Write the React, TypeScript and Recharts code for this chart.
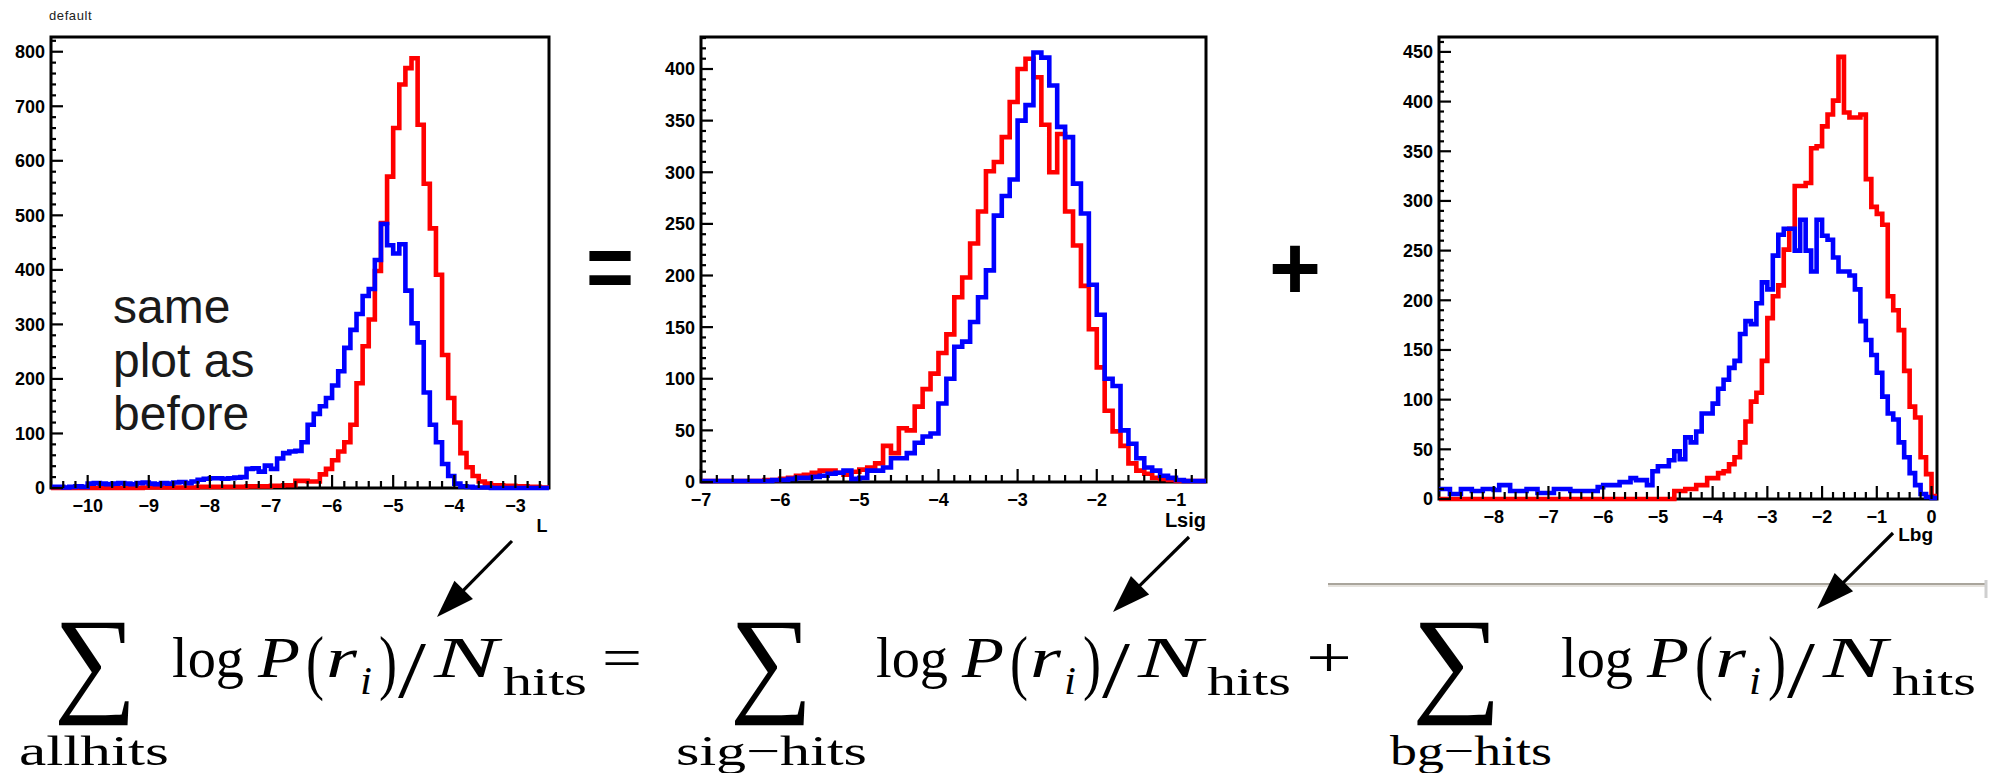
import React from 'react';
import { LineChart, Line, XAxis, YAxis, ReferenceArea } from 'recharts';

// ---------- data ----------
const BIN = 0.1;

// Plot 1: L (all hits)
const L_START = -10.6;
const L_END = -2.45;
const L_RED = [
  0, 0, 0, 0, 0, 0, 0, 0, 0, 0, 0, 0, 0, 0, 0, 1, 1, 1, 1, 1, 1,
  1, 1, 1, 2, 2, 2, 2, 2, 2, 2, 2, 3, 3, 3, 3,
  4, 4, 5, 5,
  13, 13, 12, 12,
  25, 35, 51, 67, 84, 116, 192, 260, 309, 398, 486, 571, 660, 740, 770, 788,
  666, 558, 476, 391, 244, 165, 120, 64, 38, 22, 12, 8, 5, 5, 4, 4, 3, 3, 2, 2, 1, 1,
];
const L_BLUE = [
  2, 2, 1, 2, 3, 2,
  8, 9, 8, 7, 8, 9, 8, 7, 9, 10, 8, 7, 9, 8, 10, 11, 9,
  12, 15, 17, 18, 18, 17, 18, 19, 20,
  35, 36, 30, 41, 35, 54, 64, 67, 68, 84,
  116, 136, 150, 165, 188, 214, 257, 290, 319, 352,
  365, 418, 484, 445, 430, 447, 362, 302, 267, 175,
  116, 84, 44, 22, 8, 3, 2, 1, 1, 1,
  0, 0, 0, 0, 0, 0, 0, 0, 0, 0,
];

// Plot 2: Lsig
const S_START = -7;
const S_END = -0.62;
const S_RED = [
  1, 1, 1, 1, 1, 1, 1, 1,
  2, 2, 3, 4, 6, 7, 9, 11, 11, 9, 7, 10, 12, 14, 18,
  35, 28, 52, 50, 73, 90, 105, 125, 143, 179, 198, 231, 262, 301, 310, 334, 368,
  400, 410, 392, 346, 300, 337, 262, 229, 190, 148, 111, 69, 49,
  35, 18, 11, 8, 4, 3, 2, 1, 1, 1, 1,
];
const S_BLUE = [
  1, 1, 1, 1, 1, 1, 1, 1, 1,
  2, 2, 3, 4, 4, 5, 6, 8, 9, 11, 3, 4, 11, 11, 14, 23, 23, 28, 38, 44, 47,
  76, 100, 131, 136, 155, 179, 205, 258, 277, 293, 350, 365, 416, 411, 384, 344, 334, 289, 260, 191,
  162, 100, 93, 50, 37, 23, 14, 11, 6, 4, 2, 1, 1, 1,
];

// Plot 3: Lbg
const B_START = -9;
const B_END = 0.1;
const B_RED = [
  0, 0, 0, 0, 0, 0, 0, 0, 0, 0, 0, 0, 0, 0, 0, 0, 0, 0, 0, 0, 0, 0,
  0, 0, 0, 0, 0, 0, 0, 0, 0, 0, 0, 0, 0, 0, 0, 0, 0, 0, 0, 0, 0,
  8, 8, 10, 10, 14, 14, 21, 21, 26, 28,
  35, 42, 57, 78, 98, 107, 139, 182, 204, 215,
  251, 272, 315, 315, 318, 353, 355, 375, 387, 401,
  445, 389, 384, 384, 387, 322, 294, 287, 276, 204,
  190, 170, 129, 93, 82, 42, 25, 3,
];
const B_BLUE = [
  10, 10, 5, 5, 10, 10, 8, 8, 10, 10,
  9, 14, 14, 8, 8, 8, 10, 10, 6, 6,
  6, 10, 10, 10, 8, 8, 8, 8, 8, 12,
  14, 14, 14, 17, 17, 21, 19, 19, 14, 28,
  33, 33, 39, 48, 40, 62, 57, 68, 86, 86,
  96, 111, 120, 132, 139, 166, 179, 176, 197, 218,
  211, 245, 266, 272, 272, 250, 281, 250, 229, 281,
  265, 261, 243, 229, 229, 225, 211, 179, 160, 145,
  127, 103, 86, 80, 57, 42, 26, 14, 5, 2, 1,
];

const L_YMAX = 827;
const S_YMAX = 431;
const B_YMAX = 465;

// ---------- helpers ----------
type Row = { x: number; red: number; blue: number };

function buildRows(start: number, end: number, red: number[], blue: number[]): Row[] {
  const rows: Row[] = red.map((r, i) => ({ x: +(start + i * BIN).toFixed(3), red: r, blue: blue[i] }));
  rows.push({ x: end, red: red[red.length - 1], blue: blue[blue.length - 1] });
  return rows;
}

function range(a: number, b: number, step: number): number[] {
  const n = Math.round((b - a) / step);
  const out: number[] = [];
  for (let i = 0; i <= n; i++) out.push(+(a + i * step).toFixed(4));
  return out;
}

const SANS = '"Liberation Sans", Arial, Helvetica, sans-serif';
const SERIF = '"Liberation Serif", "Times New Roman", serif';

function fmt(v: number): string {
  return v < 0 ? '\u2212' + Math.abs(v) : String(v);
}

const YW = 70;
const MT = 12;
const MR = 12;
const XH = 50;

type HistProps = {
  frame: [number, number, number, number];
  start: number;
  end: number;
  ymax: number;
  red: number[];
  blue: number[];
  xTicks: number[];
  yTicks: number[];
  yMajor: number;
  fs: number;
};

function Hist({ frame, start, end, ymax, red, blue, xTicks, yTicks, yMajor, fs }: HistProps) {
  const [fx0, fy0, fx1, fy1] = frame;
  const pw = fx1 - fx0;
  const ph = fy1 - fy0;
  const W = pw + YW + MR;
  const H = ph + MT + XH;
  const axisY = MT + ph;
  const axisX = YW;
  const data = buildRows(start, end, red, blue);

  const xTick = (props: any) => {
    const { x, payload } = props;
    const v = payload.value as number;
    const major = Math.abs(v - Math.round(v)) < 1e-6;
    return (
      <g>
        <line x1={x} x2={x} y1={axisY} y2={axisY - (major ? 13 : 7)} stroke="#000" strokeWidth={2.2} />
        {major && (
          <text
            x={x}
            y={axisY + 24}
            textAnchor="middle"
            fontFamily={SANS}
            fontWeight={700}
            fontSize={fs}
            fill="#000"
          >
            {fmt(Math.round(v))}
          </text>
        )}
      </g>
    );
  };

  const yTick = (props: any) => {
    const { y, payload } = props;
    const v = payload.value as number;
    const major = Math.abs(v % yMajor) < 1e-6;
    return (
      <g>
        <line x1={axisX} x2={axisX + (major ? 12 : 5)} y1={y} y2={y} stroke="#000" strokeWidth={2.2} />
        {major && (
          <text
            x={axisX - 6}
            y={y + fs * 0.36}
            textAnchor="end"
            fontFamily={SANS}
            fontWeight={700}
            fontSize={fs}
            fill="#000"
          >
            {fmt(v)}
          </text>
        )}
      </g>
    );
  };

  return (
    <div style={{ position: 'absolute', left: fx0 - YW, top: fy0 - MT, width: W, height: H }}>
      <LineChart width={W} height={H} data={data} margin={{ top: MT, right: MR, bottom: 0, left: 0 }}>
        <XAxis
          dataKey="x"
          type="number"
          domain={[start, end]}
          ticks={xTicks}
          interval={0}
          height={XH}
          axisLine={false}
          tickLine={false}
          tick={xTick}
        />
        <YAxis
          type="number"
          domain={[0, ymax]}
          ticks={yTicks}
          interval={0}
          width={YW}
          axisLine={false}
          tickLine={false}
          tick={yTick}
        />
        <ReferenceArea
          x1={start}
          x2={end}
          y1={0}
          y2={ymax}
          fill="none"
          fillOpacity={0}
          stroke="#000"
          strokeWidth={3}
          ifOverflow="visible"
        />
        <Line
          dataKey="red"
          type="stepAfter"
          stroke="#ff0000"
          strokeWidth={4.6}
          dot={false}
          activeDot={false}
          isAnimationActive={false}
        />
        <Line
          dataKey="blue"
          type="stepAfter"
          stroke="#0000ff"
          strokeWidth={4.6}
          dot={false}
          activeDot={false}
          isAnimationActive={false}
        />
      </LineChart>
    </div>
  );
}

function Arrow({ x1, y1, x2, y2 }: { x1: number; y1: number; x2: number; y2: number }) {
  const dx = x2 - x1;
  const dy = y2 - y1;
  const len = Math.hypot(dx, dy);
  const ux = dx / len;
  const uy = dy / len;
  const hl = 38;
  const hw = 13;
  const bx = x2 - ux * hl;
  const by = y2 - uy * hl;
  const px = -uy;
  const py = ux;
  return (
    <g>
      <line x1={x1} y1={y1} x2={bx + ux * 4} y2={by + uy * 4} stroke="#000" strokeWidth={3.2} />
      <polygon
        points={`${x2},${y2} ${bx + px * hw},${by + py * hw} ${bx - px * hw},${by - py * hw}`}
        fill="#000"
      />
    </g>
  );
}

function LogTerm({ x0 }: { x0: number }) {
  const b = 677;
  const la = 'spacingAndGlyphs';
  return (
    <g fontFamily={SERIF} fill="#000">
      <text x={x0} y={b} fontSize={58} textLength={72} lengthAdjust={la}>log</text>
      <text x={x0 + 86} y={b} fontSize={58} fontStyle="italic" textLength={42} lengthAdjust={la}>P</text>
      <text x={x0 + 134} y={686} fontSize={72} textLength={18} lengthAdjust={la}>(</text>
      <text x={x0 + 154} y={b} fontSize={58} fontStyle="italic" textLength={31} lengthAdjust={la}>r</text>
      <text x={x0 + 188} y={694} fontSize={40} fontStyle="italic" textLength={12} lengthAdjust={la}>i</text>
      <text x={x0 + 207} y={686} fontSize={72} textLength={18} lengthAdjust={la}>)</text>
      <text x={x0 + 226} y={697} fontSize={80} textLength={28} lengthAdjust={la}>/</text>
      <text x={x0 + 262} y={b} fontSize={58} fontStyle="italic" textLength={64} lengthAdjust={la}>N</text>
      <text x={x0 + 331} y={695} fontSize={41} textLength={84} lengthAdjust={la}>hits</text>
    </g>
  );
}

export default function App() {
  return (
    <div style={{ position: 'absolute', left: 0, top: 0, width: 1995, height: 773, background: '#fff', overflow: 'hidden' }}>
      <Hist
        frame={[51, 37, 549, 488]}
        start={L_START}
        end={L_END}
        ymax={L_YMAX}
        red={L_RED}
        blue={L_BLUE}
        xTicks={range(-10.6, -2.6, 0.2)}
        yTicks={range(0, 820, 20)}
        yMajor={100}
        fs={18}
      />
      <Hist
        frame={[701, 37, 1206, 482]}
        start={S_START}
        end={S_END}
        ymax={S_YMAX}
        red={S_RED}
        blue={S_BLUE}
        xTicks={range(-7, -0.8, 0.2)}
        yTicks={range(0, 430, 10)}
        yMajor={50}
        fs={18}
      />
      <Hist
        frame={[1439, 37, 1937, 499]}
        start={B_START}
        end={B_END}
        ymax={B_YMAX}
        red={B_RED}
        blue={B_BLUE}
        xTicks={range(-8.8, 0, 0.2)}
        yTicks={range(0, 460, 10)}
        yMajor={50}
        fs={18}
      />
      <svg
        width={1995}
        height={773}
        style={{ position: 'absolute', left: 0, top: 0, pointerEvents: 'none' }}
      >
        <text x={49} y={20} fontFamily={SANS} fontSize={13} letterSpacing={0.6} fill="#222">default</text>
        <g fontFamily={SANS} fontSize={48} fill="#1a1a1a">
          <text x={113} y={323}>same</text>
          <text x={113} y={377}>plot as</text>
          <text x={113} y={430}>before</text>
        </g>
        <g fontFamily={SANS} fontWeight={700} fill="#000">
          <text x={542} y={532} fontSize={18} textAnchor="middle">L</text>
          <text x={1206} y={527} fontSize={20} textAnchor="end">Lsig</text>
          <text x={1933} y={541} fontSize={19} textAnchor="end">Lbg</text>
          <text x={586} y={298} fontSize={90} textLength={48} lengthAdjust="spacingAndGlyphs">=</text>
          <text x={1269} y={299} fontSize={90} textLength={52} lengthAdjust="spacingAndGlyphs">+</text>
        </g>
        <line x1={1328} y1={584} x2={1987} y2={584} stroke="#a9a59c" strokeWidth={2} />
        <line x1={1328} y1={586} x2={1987} y2={586} stroke="#dcd9d2" strokeWidth={1.5} />
        <line x1={1986} y1={580} x2={1986} y2={598} stroke="#cfcfcf" strokeWidth={3} />
        <Arrow x1={512} y1={541} x2={437} y2={617} />
        <Arrow x1={1189} y1={537} x2={1113} y2={612} />
        <Arrow x1={1893} y1={533} x2={1817} y2={609} />
        <g fontFamily={SERIF} fill="#000">
          <text x={54} y={700} fontSize={118} textLength={83} lengthAdjust="spacingAndGlyphs">∑</text>
          <text x={730} y={700} fontSize={118} textLength={83} lengthAdjust="spacingAndGlyphs">∑</text>
          <text x={1412} y={700} fontSize={118} textLength={90} lengthAdjust="spacingAndGlyphs">∑</text>
          <text x={19} y={765} fontSize={42} textLength={150} lengthAdjust="spacingAndGlyphs">allhits</text>
          <text x={676} y={765} fontSize={42} textLength={191} lengthAdjust="spacingAndGlyphs">sig−hits</text>
          <text x={1390} y={765} fontSize={42} textLength={162} lengthAdjust="spacingAndGlyphs">bg−hits</text>
          <text x={602} y={677} fontSize={58} textLength={40} lengthAdjust="spacingAndGlyphs">=</text>
          <text x={1306} y={677} fontSize={58} textLength={46} lengthAdjust="spacingAndGlyphs">+</text>
        </g>
        <LogTerm x0={172} />
        <LogTerm x0={876} />
        <LogTerm x0={1561} />
      </svg>
    </div>
  );
}
